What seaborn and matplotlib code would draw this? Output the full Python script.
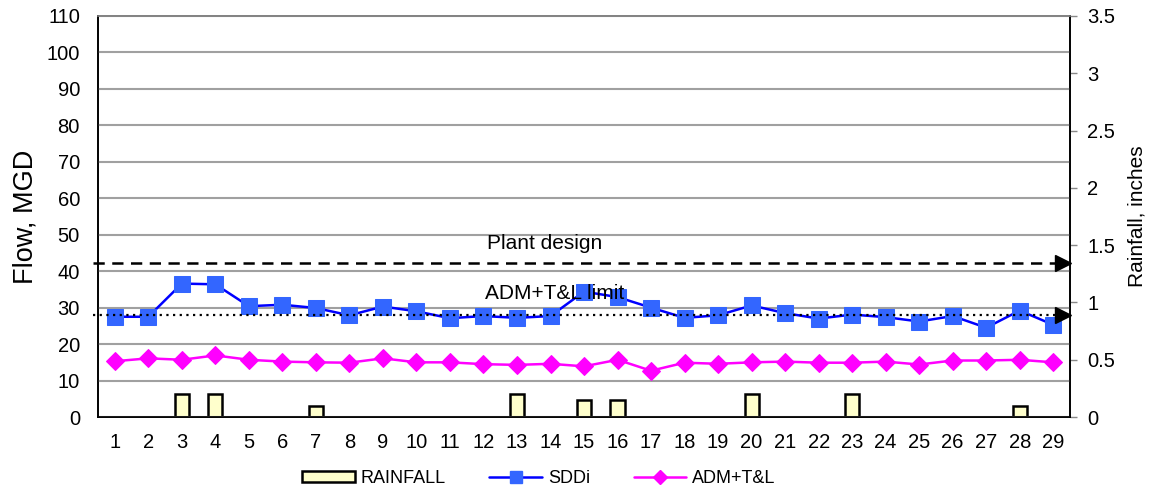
import matplotlib
matplotlib.use("Agg")
import matplotlib.pyplot as plt
import matplotlib.ticker as mticker
from matplotlib.patches import Patch
from matplotlib.lines import Line2D
import seaborn as sns
import pandas as pd

days = list(range(1, 30))
sddi = [27.5, 27.5, 36.6, 36.4, 30.4, 30.8, 29.9, 27.9, 30.3, 29.0,
        27.1, 27.7, 27.2, 27.7, 34.4, 32.9, 30.0, 27.2, 27.9, 30.6,
        28.5, 27.0, 28.1, 27.4, 26.2, 27.7, 24.5, 29.2, 25.3]
adm_tl = [15.3, 16.1, 15.7, 16.9, 15.7, 15.2, 15.0, 14.9, 16.1, 15.0,
          15.0, 14.5, 14.3, 14.6, 13.9, 15.7, 12.7, 14.9, 14.6, 15.0,
          15.2, 14.9, 14.9, 15.2, 14.4, 15.5, 15.5, 15.7, 15.0]
rainfall = [0, 0, 0.2, 0.2, 0, 0, 0.1, 0, 0, 0,
            0, 0, 0.2, 0, 0.15, 0.15, 0, 0, 0, 0.2,
            0, 0, 0.2, 0, 0, 0, 0, 0.1, 0]
plant_design = 42.3
adm_limit = 28.1

df = pd.DataFrame({"day": days, "SDDi": sddi, "ADM+T&L": adm_tl, "RAINFALL": rainfall})

sns.set_style("white")
plt.rcParams["font.family"] = ["Liberation Sans", "DejaVu Sans"]
plt.rcParams["text.color"] = "black"
plt.rcParams["axes.labelcolor"] = "black"
plt.rcParams["xtick.color"] = "black"
plt.rcParams["ytick.color"] = "black"

fig = plt.figure(figsize=(11.59, 4.92), dpi=100)
ax = fig.add_axes([0.0846, 0.1524, 0.8386, 0.8151])
ax2 = ax.twinx()

# rainfall bars on the right axis
sns.barplot(data=df, x="day", y="RAINFALL", native_scale=True, ax=ax2,
            color="#ffffcc", edgecolor="black", linewidth=1.8, width=0.42,
            saturation=1, zorder=2)
ax2.set_ylim(0, 3.5)
ax2.yaxis.set_major_locator(mticker.MultipleLocator(0.5))
ax2.yaxis.set_major_formatter(mticker.FormatStrFormatter("%g"))
ax2.set_ylabel("Rainfall, inches", fontsize=15, labelpad=9)
ax2.tick_params(axis="y", length=5, width=1, color="#888888", labelcolor="black",
                pad=7.5, labelsize=14.5)

# flow lines on the left axis
sns.lineplot(data=df, x="day", y="SDDi", ax=ax, color="#0000ff", lw=1.8,
             marker="s", markersize=11, markerfacecolor="#3366ff",
             markeredgecolor="#3366ff", zorder=4)
sns.lineplot(data=df, x="day", y="ADM+T&L", ax=ax, color="#ff00ff", lw=1.8,
             marker="D", markersize=9, markerfacecolor="#ff00ff",
             markeredgecolor="#ff00ff", zorder=4)

ax.set_xlim(0.5, 29.5)
ax.set_ylim(0, 110)
ax.yaxis.set_major_locator(mticker.MultipleLocator(10))
ax.set_xticks(days)
ax.set_xticklabels([str(d) for d in days])
ax.tick_params(axis="x", length=0, pad=11.5, labelsize=14.5)
ax.tick_params(axis="y", length=0, pad=13, labelsize=14.5)
ax.set_xlabel("")
ax.set_ylabel("Flow, MGD", fontsize=19.5, labelpad=6)
ax.grid(axis="y", color="#a0a0a0", lw=1.5)
ax.set_axisbelow(True)
ax.set_zorder(ax2.get_zorder() + 1)
ax.patch.set_visible(False)

for a in (ax, ax2):
    for s in ("left", "right", "bottom"):
        a.spines[s].set_color("black")
        a.spines[s].set_linewidth(1.2)
    a.spines["top"].set_color("#808080")
    a.spines["top"].set_linewidth(1.2)

# reference lines with arrow heads
x0, x1 = 0.35, 29.5
ax.plot([x0, x1 - 0.2], [plant_design] * 2, color="black", lw=1.8,
        ls=(0, (4.5, 3)), clip_on=False, zorder=5)
ax.plot([x1 - 0.22], [plant_design], marker=">", color="black", ms=11,
        clip_on=False, zorder=5)
ax.plot([x0, x1 - 0.2], [adm_limit] * 2, color="black", lw=1.6,
        ls=(0, (1, 2)), clip_on=False, zorder=5)
ax.plot([x1 - 0.22], [adm_limit], marker=">", color="black", ms=11,
        clip_on=False, zorder=5)
ax.text(13.83, 47.6, "Plant design", ha="center", va="center", fontsize=15, zorder=7)
ax.text(14.13, 33.8, "ADM+T&L limit", ha="center", va="center", fontsize=15, zorder=7)

if ax.get_legend():
    ax.get_legend().remove()
if ax2.get_legend():
    ax2.get_legend().remove()

handles = [
    Patch(facecolor="#ffffcc", edgecolor="black", linewidth=1.8),
    Line2D([], [], color="#0000ff", lw=1.8, marker="s", ms=9,
           markerfacecolor="#3366ff", markeredgecolor="#3366ff"),
    Line2D([], [], color="#ff00ff", lw=1.8, marker="D", ms=7,
           markerfacecolor="#ff00ff", markeredgecolor="#ff00ff"),
]
fig.legend(handles, ["RAINFALL", "SDDi", "ADM+T&L"], loc="center",
           bbox_to_anchor=(0.465, 0.028), ncol=3, frameon=False, fontsize=13,
           handlelength=2.9, handleheight=0.55, columnspacing=2.4, handletextpad=0.35)

fig.savefig("out.png", dpi=100)
